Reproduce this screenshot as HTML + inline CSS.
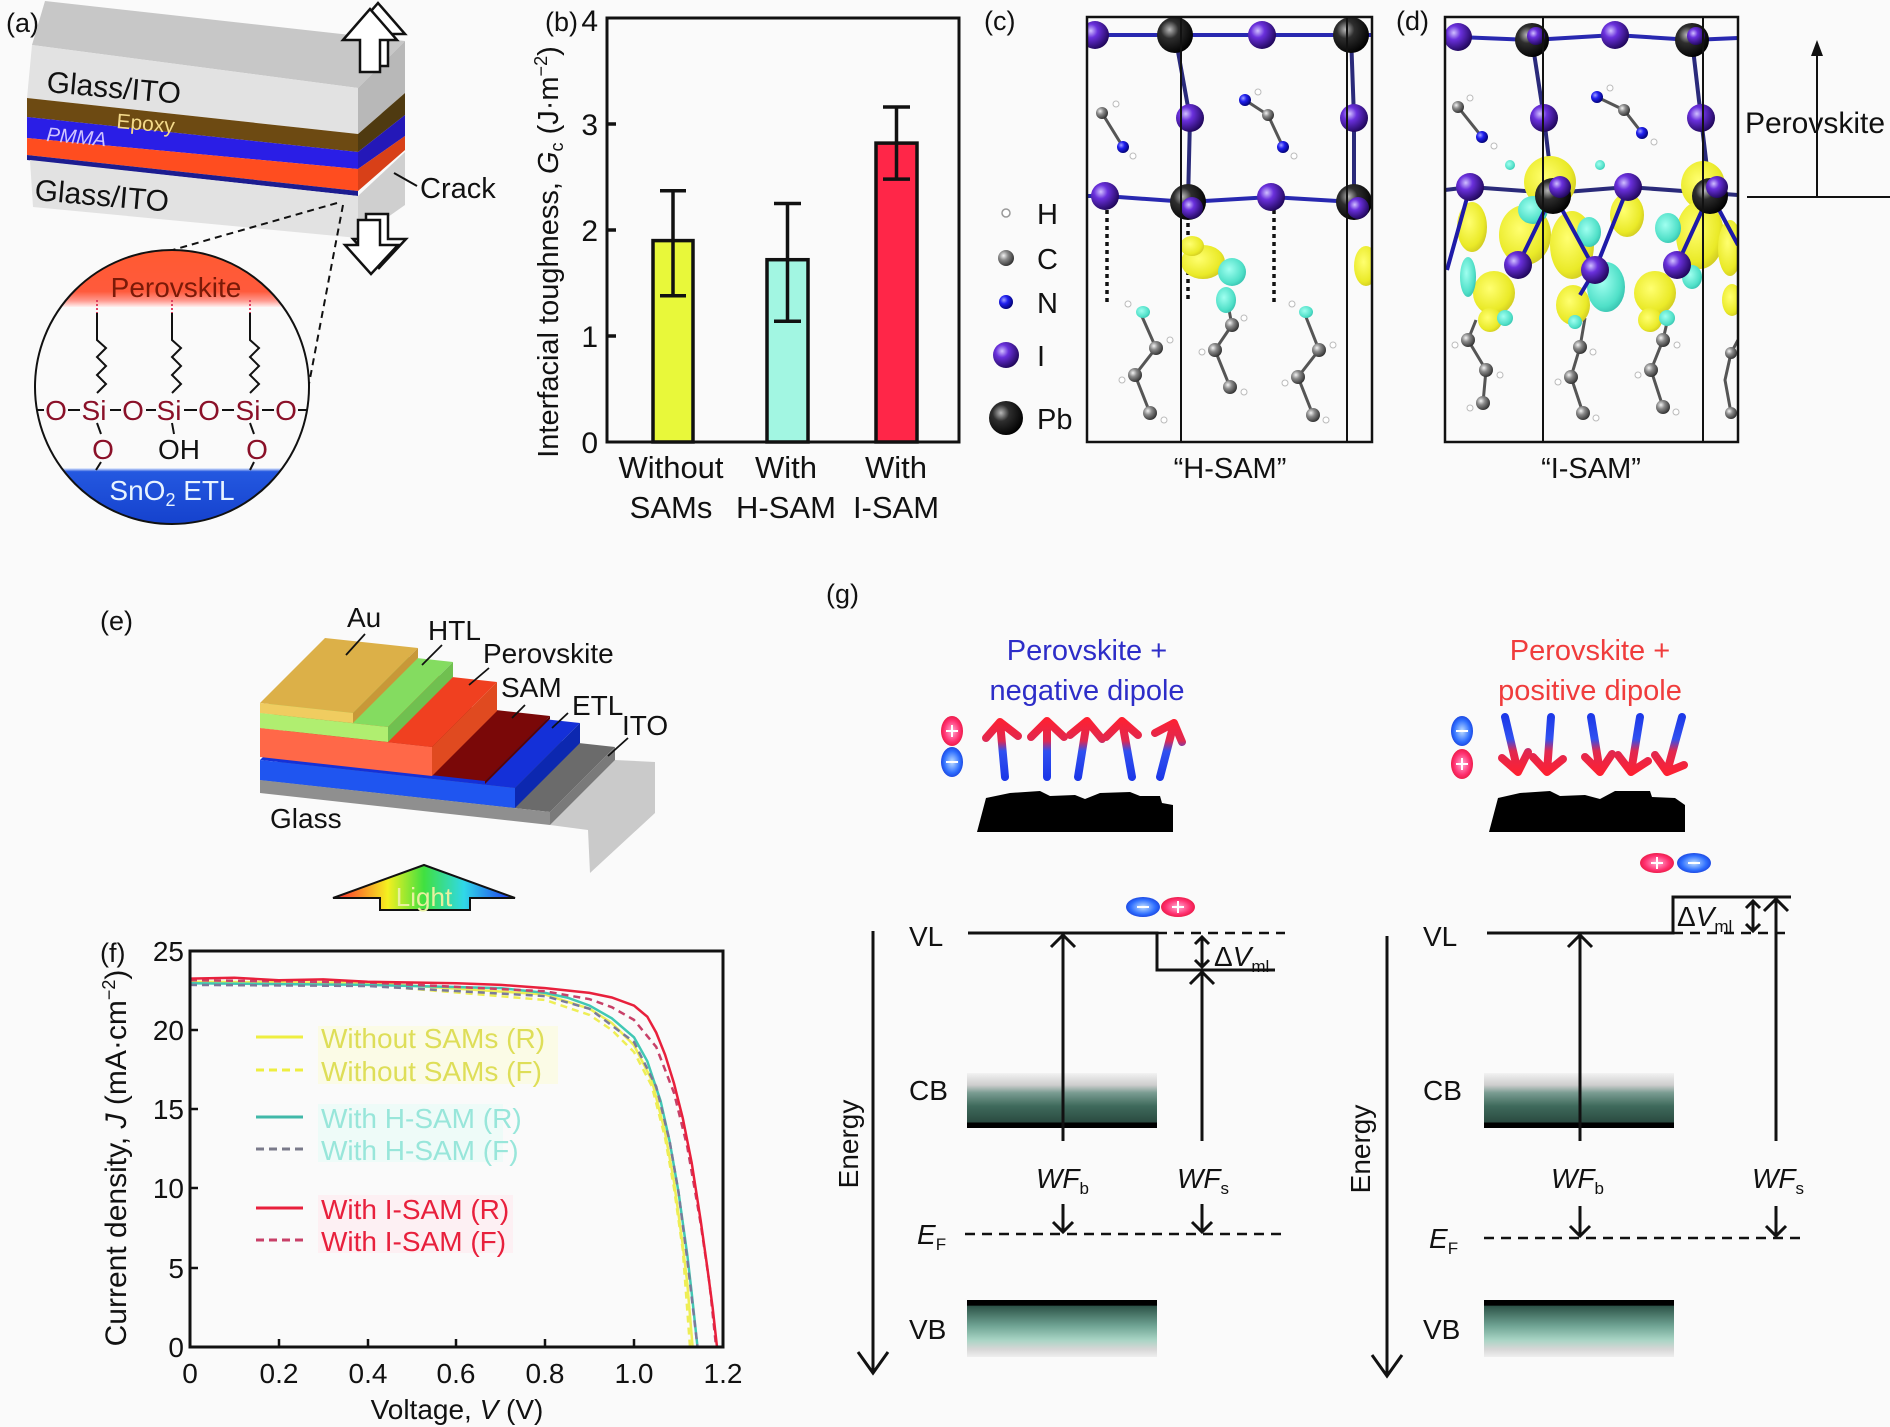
<!DOCTYPE html>
<html><head><meta charset="utf-8"><style>
html,body{margin:0;padding:0;background:#fafafa;}
svg{display:block;}
text{font-family:"Liberation Sans",sans-serif;fill:#111;}
</style></head><body>
<svg width="1890" height="1427" viewBox="0 0 1890 1427" xmlns="http://www.w3.org/2000/svg">
<defs>
<radialGradient id="gI" cx="0.35" cy="0.35" r="0.7"><stop offset="0" stop-color="#d0c0ff"/><stop offset="0.35" stop-color="#6a30dc"/><stop offset="1" stop-color="#1e0658"/></radialGradient>
<radialGradient id="gPb" cx="0.35" cy="0.35" r="0.7"><stop offset="0" stop-color="#b8b8b8"/><stop offset="0.35" stop-color="#2e2e2e"/><stop offset="1" stop-color="#000"/></radialGradient>
<radialGradient id="gC" cx="0.35" cy="0.35" r="0.7"><stop offset="0" stop-color="#f4f4f4"/><stop offset="0.4" stop-color="#8a8a8a"/><stop offset="1" stop-color="#2e2e2e"/></radialGradient>
<radialGradient id="gN" cx="0.35" cy="0.35" r="0.7"><stop offset="0" stop-color="#a0a0ff"/><stop offset="0.4" stop-color="#2020f0"/><stop offset="1" stop-color="#000070"/></radialGradient>
<radialGradient id="gY" cx="0.4" cy="0.4" r="0.7"><stop offset="0" stop-color="#ffff70"/><stop offset="0.7" stop-color="#eaea28"/><stop offset="1" stop-color="#c8c020"/></radialGradient>
<radialGradient id="gCy" cx="0.4" cy="0.4" r="0.7"><stop offset="0" stop-color="#a0fff0"/><stop offset="0.7" stop-color="#50e0c8"/><stop offset="1" stop-color="#30b8a8"/></radialGradient>
<linearGradient id="perovBand" x1="0" y1="0" x2="0" y2="1"><stop offset="0" stop-color="#ff5a30"/><stop offset="0.75" stop-color="#ff5a3c"/><stop offset="0.9" stop-color="#ff9a90"/><stop offset="1" stop-color="#fff0f0"/></linearGradient>
<linearGradient id="snBand" x1="0" y1="0" x2="0" y2="1"><stop offset="0" stop-color="#f4f8ff"/><stop offset="0.06" stop-color="#2458e0"/><stop offset="1" stop-color="#1440cc"/></linearGradient>
<linearGradient id="cbg" x1="0" y1="0" x2="0" y2="1"><stop offset="0" stop-color="#f2f2f2"/><stop offset="0.22" stop-color="#cdcdcd"/><stop offset="0.36" stop-color="#7a9c92"/><stop offset="0.6" stop-color="#3f6a5c"/><stop offset="0.9" stop-color="#2a4a40"/><stop offset="0.9" stop-color="#000"/><stop offset="1" stop-color="#000"/></linearGradient>
<linearGradient id="vbg" x1="0" y1="0" x2="0" y2="1"><stop offset="0" stop-color="#000"/><stop offset="0.09" stop-color="#000"/><stop offset="0.11" stop-color="#2e5449"/><stop offset="0.45" stop-color="#6fa393"/><stop offset="0.7" stop-color="#a8d4c4"/><stop offset="0.86" stop-color="#d6d6d6"/><stop offset="1" stop-color="#efefef"/></linearGradient>
<linearGradient id="arrUp" gradientUnits="userSpaceOnUse" x1="0" y1="778" x2="0" y2="718"><stop offset="0" stop-color="#1c38e8"/><stop offset="0.45" stop-color="#3050f0"/><stop offset="0.62" stop-color="#e02850"/><stop offset="1" stop-color="#ff2030"/></linearGradient>
<linearGradient id="arrDn" gradientUnits="userSpaceOnUse" x1="0" y1="715" x2="0" y2="775"><stop offset="0" stop-color="#1c38e8"/><stop offset="0.4" stop-color="#3050f0"/><stop offset="0.6" stop-color="#e02850"/><stop offset="1" stop-color="#ff2030"/></linearGradient>
<linearGradient id="light" x1="0" y1="0" x2="1" y2="0"><stop offset="0" stop-color="#ff2030"/><stop offset="0.3" stop-color="#f4f020"/><stop offset="0.5" stop-color="#40e040"/><stop offset="0.72" stop-color="#30d8e8"/><stop offset="1" stop-color="#2030f0"/></linearGradient>
<radialGradient id="dRed" cx="0.5" cy="0.5" r="0.6"><stop offset="0" stop-color="#ffb0d8"/><stop offset="0.6" stop-color="#ff3070"/><stop offset="1" stop-color="#e01030"/></radialGradient>
<radialGradient id="dBlue" cx="0.5" cy="0.5" r="0.6"><stop offset="0" stop-color="#c0e0ff"/><stop offset="0.6" stop-color="#3070ff"/><stop offset="1" stop-color="#1030d0"/></radialGradient>
<clipPath id="clipCirc"><circle cx="172" cy="387" r="137"/></clipPath>
<clipPath id="clipC"><rect x="1087" y="17" width="285" height="425"/></clipPath>
<clipPath id="clipD"><rect x="1445" y="17" width="293" height="425"/></clipPath>
</defs>
<rect width="1890" height="1427" fill="#fafafa"/>

<!-- ================= (a) ================= -->
<text x="6" y="32" font-size="27">(a)</text>
<polygon points="32,45 45,1 405,41 358,88" fill="#c7c7c7"/>
<polygon points="32,45 358,88 358,134 27,98" fill="#e2e2e2"/>
<polygon points="358,88 405,41 405,93 358,134" fill="#b8b8b8"/>
<polygon points="27,98 358,134 358,152 27,117" fill="#6d4a12"/>
<polygon points="358,134 405,93 405,115 358,152" fill="#4f3a10"/>
<polygon points="27,117 358,152 358,169 27,138" fill="#2a1ee6"/>
<polygon points="358,152 405,115 405,136 358,169" fill="#2418b8"/>
<polygon points="27,138 358,169 358,191 27,155" fill="#ff4d1f"/>
<polygon points="358,169 405,136 405,150 358,191" fill="#d84018"/>
<polygon points="27,155 358,191 358,196 27,160" fill="#1c1c90"/>
<polygon points="30,160 358,196 358,238 33,207" fill="#e2e2e2"/>
<polygon points="358,196 405,152 405,205 358,238" fill="#cfcfcf"/>
<text x="46" y="92" font-size="30" transform="rotate(5 46 92)">Glass/ITO</text>
<text x="34" y="200" font-size="30" transform="rotate(5 34 200)">Glass/ITO</text>
<text x="116" y="128" font-size="21" style="fill:#f3d98a" transform="rotate(5 116 128)">Epoxy</text>
<text x="46" y="141" font-size="20" font-style="italic" style="fill:#cfc4ff" transform="rotate(5 46 141)">PMMA</text>
<polygon points="351,34 378,3 405,34 388,34 388,66 368,66 368,34" fill="#fff" stroke="#111" stroke-width="2.5"/>
<polygon points="343,40 370,9 397,40 380,40 380,72 360,72 360,40" fill="#fff" stroke="#111" stroke-width="2.5"/>
<polygon points="366,214 388,214 388,239 406,239 379,268 353,239 366,239" fill="#fff" stroke="#111" stroke-width="2.5"/>
<polygon points="358,220 380,220 380,245 398,245 371,274 345,245 358,245" fill="#fff" stroke="#111" stroke-width="2.5"/>
<line x1="417" y1="186" x2="394" y2="173" stroke="#111" stroke-width="2"/>
<text x="420" y="198" font-size="29">Crack</text>
<line x1="337" y1="203" x2="148" y2="257" stroke="#111" stroke-width="2" stroke-dasharray="7 5"/>
<line x1="343" y1="205" x2="308" y2="389" stroke="#111" stroke-width="2" stroke-dasharray="7 5"/>
<circle cx="172" cy="387" r="137" fill="#fafafa"/>
<g clip-path="url(#clipCirc)">
<rect x="30" y="245" width="290" height="62" fill="url(#perovBand)"/>
<rect x="30" y="468" width="290" height="60" fill="url(#snBand)"/>
<g stroke="#111" stroke-width="2" fill="none">
<path d="M97,313 V340 L106,348 L97,357 L106,366 L97,375 L106,384 L97,393"/>
<path d="M172,313 V340 L181,348 L172,357 L181,366 L172,375 L181,384 L172,393"/>
<path d="M250,313 V340 L259,348 L250,357 L259,366 L250,375 L259,384 L250,393"/>
<path d="M30,410 H44 M68,410 H80 M110,410 H121 M146,410 H156 M184,410 H197 M222,410 H234 M262,410 H274 M298,410 H320"/>
<path d="M97,423 L101,434 M172,423 L174,434 M250,423 L254,434 M101,462 L96,470 M254,462 L250,470"/>
</g>
<g stroke="#e04060" stroke-width="2" stroke-dasharray="2 2"><path d="M97,300 V313 M172,300 V313 M250,300 V313"/></g>
<g font-size="28" text-anchor="middle">
<text x="56" y="420" style="fill:#8a1028">O</text><text x="94" y="420" style="fill:#8a1028">Si</text>
<text x="133" y="420" style="fill:#8a1028">O</text><text x="169" y="420" style="fill:#8a1028">Si</text>
<text x="209" y="420" style="fill:#8a1028">O</text><text x="248" y="420" style="fill:#8a1028">Si</text>
<text x="286" y="420" style="fill:#8a1028">O</text>
<text x="103" y="459" style="fill:#8a1028">O</text><text x="179" y="459">OH</text><text x="257" y="459" style="fill:#8a1028">O</text>
</g>
<text x="176" y="297" font-size="28" text-anchor="middle" style="fill:#7a1a08">Perovskite</text>
<text x="172" y="500" font-size="28" text-anchor="middle" style="fill:#e8f4ff">SnO<tspan font-size="18" dy="6">2</tspan><tspan dy="-6"> ETL</tspan></text>
</g>
<circle cx="172" cy="387" r="137" fill="none" stroke="#111" stroke-width="2"/>

<!-- ================= (b) ================= -->
<text x="545" y="31" font-size="27">(b)</text>
<rect x="653" y="240.6" width="40" height="201.4" fill="#e8f83a" stroke="#111" stroke-width="3.5"/>
<rect x="767" y="259.7" width="41" height="182.3" fill="#a2f6e2" stroke="#111" stroke-width="3.5"/>
<rect x="876" y="143.1" width="41" height="298.9" fill="#ff2648" stroke="#111" stroke-width="3.5"/>
<g stroke="#111" stroke-width="3.5">
<path d="M673,295.7 V190.8 M660,295.7 H686 M660,190.8 H686"/>
<path d="M787.5,321.2 V203.5 M774,321.2 H801 M774,203.5 H801"/>
<path d="M896.5,179.1 V107 M883,179.1 H910 M883,107 H910"/>
<path d="M607,336 H616 M607,230 H616 M607,124 H616"/>
</g>
<rect x="607" y="18" width="352" height="424" fill="none" stroke="#111" stroke-width="3"/>
<g font-size="30" text-anchor="end">
<text x="598" y="453">0</text><text x="598" y="347">1</text><text x="598" y="241">2</text><text x="598" y="135">3</text><text x="598" y="31">4</text>
</g>
<text transform="translate(558,252) rotate(-90)" text-anchor="middle" font-size="29">Interfacial toughness, <tspan font-style="italic">G</tspan><tspan font-size="18" dy="5">c</tspan><tspan dy="-5"> (J·m</tspan><tspan font-size="18" dy="-11">−2</tspan><tspan dy="11">)</tspan></text>
<g font-size="31" text-anchor="middle">
<text x="671" y="478">Without</text><text x="671" y="518">SAMs</text>
<text x="786" y="478">With</text><text x="786" y="518">H-SAM</text>
<text x="896" y="478">With</text><text x="896" y="518">I-SAM</text>
</g>

<!-- ================= (c) ================= -->
<text x="984" y="30" font-size="27">(c)</text>
<g clip-path="url(#clipC)">
<path d="M1087,35 L1372,35" stroke="#2828b0" stroke-width="4"/>
<path d="M1175,35 L1190,118 L1188,202 M1351,35 L1354,118 L1354,202" stroke="#2a2a7a" stroke-width="4" fill="none"/>
<path d="M1087,196 L1105,196 L1188,202 L1271,197 L1354,202 L1372,200" stroke="#2828b0" stroke-width="4" fill="none"/>
<g stroke="#555" stroke-width="3" fill="none">
<path d="M1102,113 L1123,147 M1245,100 L1268,115 L1283,147"/>
<path d="M1140,312 L1156,348 L1135,375 L1150,413 M1228,305 L1232,325 L1215,350 L1230,387 M1304,312 L1319,350 L1298,377 L1313,415"/>
</g>
<g stroke="#111" stroke-width="3.5" stroke-dasharray="4 4"><path d="M1107,210 V302 M1188,215 V302 M1274,210 V302"/></g>
<ellipse cx="1203" cy="262" rx="22" ry="17" fill="url(#gY)"/>
<ellipse cx="1192" cy="246" rx="12" ry="10" fill="url(#gY)"/>
<ellipse cx="1232" cy="272" rx="14" ry="14" fill="url(#gCy)"/>
<ellipse cx="1226" cy="300" rx="10" ry="13" fill="url(#gCy)"/>
<ellipse cx="1366" cy="266" rx="12" ry="20" fill="url(#gY)"/>
<ellipse cx="1143" cy="312" rx="7" ry="6" fill="url(#gCy)"/>
<ellipse cx="1306" cy="312" rx="7" ry="6" fill="url(#gCy)"/>
<g fill="url(#gC)">
<circle cx="1102" cy="113" r="6"/><circle cx="1268" cy="115" r="6"/>
<circle cx="1156" cy="348" r="7"/><circle cx="1135" cy="375" r="7"/><circle cx="1150" cy="413" r="7"/>
<circle cx="1232" cy="325" r="7"/><circle cx="1215" cy="350" r="7"/><circle cx="1230" cy="387" r="7"/>
<circle cx="1319" cy="350" r="7"/><circle cx="1298" cy="377" r="7"/><circle cx="1313" cy="415" r="7"/>
</g>
<g fill="url(#gN)"><circle cx="1123" cy="147" r="6"/><circle cx="1245" cy="100" r="6"/><circle cx="1283" cy="147" r="6"/></g>
<g fill="#fff" stroke="#bbb" stroke-width="1"><circle cx="1116" cy="104" r="3"/><circle cx="1133" cy="156" r="3"/><circle cx="1258" cy="92" r="3"/><circle cx="1294" cy="156" r="3"/><circle cx="1170" cy="340" r="3"/><circle cx="1122" cy="380" r="3"/><circle cx="1164" cy="420" r="3"/><circle cx="1244" cy="318" r="3"/><circle cx="1202" cy="352" r="3"/><circle cx="1244" cy="392" r="3"/><circle cx="1333" cy="345" r="3"/><circle cx="1285" cy="383" r="3"/><circle cx="1326" cy="420" r="3"/><circle cx="1128" cy="304" r="3"/><circle cx="1292" cy="304" r="3"/></g>
<g fill="url(#gI)">
<circle cx="1095" cy="35" r="14"/><circle cx="1262" cy="35" r="14"/>
<circle cx="1190" cy="118" r="14"/><circle cx="1354" cy="118" r="14"/>
<circle cx="1105" cy="196" r="14"/><circle cx="1271" cy="197" r="14"/>
</g>
<g fill="url(#gPb)">
<circle cx="1175" cy="35" r="18"/><circle cx="1351" cy="35" r="18"/>
<circle cx="1188" cy="202" r="18"/><circle cx="1354" cy="202" r="18"/>
</g>
<g fill="url(#gI)"><circle cx="1192" cy="208" r="11"/><circle cx="1358" cy="208" r="11"/></g>
</g>
<path d="M1181,17 V442 M1347,17 V442" stroke="#111" stroke-width="2"/>
<rect x="1087" y="17" width="285" height="425" fill="none" stroke="#111" stroke-width="2.5"/>
<circle cx="1006" cy="213" r="4" fill="#fff" stroke="#999" stroke-width="1.5"/>
<circle cx="1006" cy="258" r="8" fill="url(#gC)"/>
<circle cx="1006" cy="302" r="7" fill="url(#gN)"/>
<circle cx="1006" cy="355" r="13" fill="url(#gI)"/>
<circle cx="1006" cy="418" r="17" fill="url(#gPb)"/>
<g font-size="29"><text x="1037" y="224">H</text><text x="1037" y="269">C</text><text x="1037" y="313">N</text><text x="1037" y="366">I</text><text x="1037" y="429">Pb</text></g>
<text x="1230" y="478" font-size="29" text-anchor="middle">“H-SAM”</text>

<!-- ================= (d) ================= -->
<text x="1396" y="30" font-size="27">(d)</text>
<g clip-path="url(#clipD)">
<path d="M1445,37 L1458,37 L1532,40 L1615,35 L1692,40 L1738,38" stroke="#2828b0" stroke-width="4" fill="none"/>
<path d="M1532,40 L1544,118 L1553,193 M1692,40 L1701,118 L1710,193" stroke="#2a2a7a" stroke-width="4" fill="none"/>
<path d="M1445,190 L1470,187 L1553,193 L1628,187 L1710,193 L1738,195" stroke="#2a2a7a" stroke-width="4" fill="none"/>
<g stroke="#555" stroke-width="3" fill="none">
<path d="M1458,107 L1482,137 M1597,97 L1624,110 L1642,133"/>
<path d="M1476,320 L1468,340 L1486,370 L1483,403 M1585,318 L1580,347 L1571,377 L1583,413 M1668,318 L1663,340 L1651,370 L1663,407 M1738,340 L1731,353 L1725,380 L1731,413"/>
</g>
<g fill="url(#gY)">
<ellipse cx="1550" cy="182" rx="26" ry="26"/><ellipse cx="1472" cy="227" rx="15" ry="25"/>
<ellipse cx="1525" cy="235" rx="26" ry="30"/><ellipse cx="1572" cy="245" rx="22" ry="34"/>
<ellipse cx="1627" cy="215" rx="17" ry="22"/><ellipse cx="1703" cy="185" rx="22" ry="24"/>
<ellipse cx="1700" cy="235" rx="24" ry="34"/><ellipse cx="1730" cy="248" rx="12" ry="28"/>
<ellipse cx="1494" cy="293" rx="21" ry="22"/><ellipse cx="1573" cy="305" rx="17" ry="20"/>
<ellipse cx="1655" cy="293" rx="21" ry="22"/><ellipse cx="1732" cy="300" rx="10" ry="16"/>
<ellipse cx="1490" cy="320" rx="12" ry="12"/><ellipse cx="1650" cy="320" rx="12" ry="12"/>
</g>
<g fill="url(#gCy)">
<ellipse cx="1606" cy="287" rx="19" ry="25"/><ellipse cx="1468" cy="277" rx="8" ry="20"/>
<ellipse cx="1533" cy="210" rx="15" ry="14"/><ellipse cx="1589" cy="232" rx="12" ry="15"/>
<ellipse cx="1668" cy="228" rx="13" ry="15"/><ellipse cx="1692" cy="277" rx="10" ry="12"/>
<ellipse cx="1505" cy="318" rx="8" ry="8"/><ellipse cx="1667" cy="318" rx="8" ry="8"/>
<ellipse cx="1575" cy="322" rx="7" ry="7"/><ellipse cx="1510" cy="165" rx="5" ry="5"/><ellipse cx="1600" cy="165" rx="5" ry="5"/>
</g>
<path d="M1553,193 L1518,265 M1553,193 L1595,270 M1628,187 L1595,270 L1580,295 M1710,193 L1677,265 M1710,193 L1738,245 M1470,187 L1447,270" stroke="#1e1aa8" stroke-width="4" fill="none"/>
<g fill="url(#gC)">
<circle cx="1458" cy="107" r="6"/><circle cx="1624" cy="110" r="6"/>
<circle cx="1468" cy="340" r="7"/><circle cx="1486" cy="370" r="7"/><circle cx="1483" cy="403" r="7"/>
<circle cx="1580" cy="347" r="7"/><circle cx="1571" cy="377" r="7"/><circle cx="1583" cy="413" r="7"/>
<circle cx="1663" cy="340" r="7"/><circle cx="1651" cy="370" r="7"/><circle cx="1663" cy="407" r="7"/>
<circle cx="1731" cy="353" r="6"/><circle cx="1731" cy="413" r="6"/>
</g>
<g fill="url(#gN)"><circle cx="1482" cy="137" r="6"/><circle cx="1597" cy="97" r="6"/><circle cx="1642" cy="133" r="6"/></g>
<g fill="#fff" stroke="#bbb" stroke-width="1"><circle cx="1470" cy="98" r="3"/><circle cx="1494" cy="146" r="3"/><circle cx="1610" cy="88" r="3"/><circle cx="1654" cy="142" r="3"/><circle cx="1455" cy="345" r="3"/><circle cx="1500" cy="375" r="3"/><circle cx="1470" cy="408" r="3"/><circle cx="1593" cy="352" r="3"/><circle cx="1558" cy="382" r="3"/><circle cx="1596" cy="418" r="3"/><circle cx="1677" cy="345" r="3"/><circle cx="1638" cy="375" r="3"/><circle cx="1676" cy="412" r="3"/></g>
<g fill="url(#gPb)">
<circle cx="1532" cy="40" r="17"/><circle cx="1692" cy="40" r="17"/>
<circle cx="1553" cy="196" r="18"/><circle cx="1710" cy="196" r="18"/>
</g>
<g fill="url(#gI)">
<circle cx="1458" cy="37" r="14"/><circle cx="1615" cy="35" r="14"/>
<circle cx="1536" cy="36" r="9"/><circle cx="1696" cy="36" r="9"/>
<circle cx="1544" cy="118" r="14"/><circle cx="1701" cy="118" r="14"/>
<circle cx="1470" cy="187" r="14"/><circle cx="1628" cy="187" r="14"/>
<circle cx="1560" cy="187" r="11"/><circle cx="1717" cy="187" r="11"/>
<circle cx="1518" cy="265" r="14"/><circle cx="1595" cy="270" r="14"/><circle cx="1677" cy="265" r="14"/>
</g>
</g>
<path d="M1543,17 V442 M1703,17 V442" stroke="#111" stroke-width="2"/>
<rect x="1445" y="17" width="293" height="425" fill="none" stroke="#111" stroke-width="2.5"/>
<text x="1591" y="478" font-size="29" text-anchor="middle">“I-SAM”</text>
<line x1="1817" y1="197" x2="1817" y2="50" stroke="#111" stroke-width="2"/>
<polygon points="1817,40 1811,56 1823,56" fill="#111"/>
<line x1="1747" y1="197" x2="1890" y2="197" stroke="#111" stroke-width="2"/>
<text x="1745" y="133" font-size="30">Perovskite</text>

<!-- ================= (e) ================= -->
<text x="100" y="630" font-size="27">(e)</text>
<polygon points="550,825 615,760 655,762 655,813 590,873 588,830" fill="#cacaca"/>
<polygon points="260,780 550,812 615,747 325,715" fill="#6b6b6b"/>
<polygon points="260,780 550,812 550,825 260,793" fill="#8f8f8f"/>
<polygon points="550,812 615,747 615,760 550,825" fill="#7a7a7a"/>
<polygon points="260,760 515,788 580,723 325,695" fill="#1430d8"/>
<polygon points="260,760 515,788 515,808 260,780" fill="#1f55f0"/>
<polygon points="515,788 580,723 580,743 515,808" fill="#0c28b0"/>
<polygon points="260,756 485,781 550,716 325,691" fill="#7a0808"/>
<polygon points="485,781 550,716 550,719 485,784" fill="#5a0404"/>
<polygon points="260,728 432,747 497,682 325,663" fill="#f04020"/>
<polygon points="260,728 432,747 432,776 260,757" fill="#ff6848"/>
<polygon points="432,747 497,682 497,711 432,776" fill="#e04a20"/>
<polygon points="260,713 388,727 453,662 325,648" fill="#84dc60"/>
<polygon points="260,713 388,727 388,742 260,728" fill="#b0ee70"/>
<polygon points="388,727 453,662 453,677 388,742" fill="#70c050"/>
<polygon points="260,703 353,713 418,648 325,638" fill="#dcb048"/>
<polygon points="260,703 353,713 353,723 260,713" fill="#f0cc60"/>
<polygon points="353,713 418,648 418,658 353,723" fill="#c89838"/>
<g stroke="#111" stroke-width="1.8">
<line x1="365" y1="634" x2="346" y2="655"/>
<line x1="442" y1="645" x2="422" y2="665"/>
<line x1="489" y1="668" x2="469" y2="685"/>
<line x1="525" y1="705" x2="512" y2="718"/>
<line x1="568" y1="713" x2="552" y2="728"/>
<line x1="628" y1="738" x2="608" y2="756"/>
</g>
<g font-size="28">
<text x="347" y="627">Au</text><text x="428" y="640">HTL</text><text x="483" y="663">Perovskite</text>
<text x="501" y="697">SAM</text><text x="572" y="715">ETL</text><text x="622" y="735">ITO</text>
<text x="270" y="828">Glass</text>
</g>
<polygon points="333,898 424,865 515,898 470,898 470,910 380,910 380,898" fill="url(#light)" stroke="#111" stroke-width="2"/>
<text x="424" y="906" font-size="26" text-anchor="middle" style="fill:#e8f0a0">Light</text>

<!-- ================= (f) ================= -->
<text x="100" y="962" font-size="27">(f)</text>
<g fill="none" stroke-width="2.5">
<polyline stroke="#eeee55" points="190,981.8 367.6,982.8 545.2,994.5 589.6,1008.8 611.8,1023 634,1045.3 651.8,1080.2 665.1,1132.6 674,1181.8 682.8,1245.4 687.3,1283.5 692.6,1347"/>
<polyline stroke="#eeee55" stroke-dasharray="7 5" points="190,983.3 367.6,985 545.2,1000 589.6,1015 611.8,1030 634,1052 651.8,1086 665.1,1138 674,1188 682.8,1250 690,1347"/>
<polyline stroke="#40c8b4" points="190,983.3 367.6,984.9 500.8,988.1 545.2,992.9 567.4,997.6 589.6,1005.6 611.8,1018.3 634,1037.3 647.3,1061.2 660.6,1100.9 669.5,1140.6 678.4,1191.4 687.3,1254.9 691.7,1293 697.5,1347"/>
<polyline stroke="#7a7a9a" stroke-dasharray="7 5" points="190,984.9 367.6,986 545.2,996.1 589.6,1008.8 634,1042.1 656.2,1086.6 669.5,1140.6 678.4,1191.4 687.3,1259.7 697.5,1347"/>
<polyline stroke="#c84068" stroke-dasharray="7 5" points="190,980.2 367.6,982.5 545.2,991.3 589.6,999.2 611.8,1007.2 634,1019.9 656.2,1046.9 674,1092.9 687.3,1146.9 700.6,1223.1 709.5,1283.5 716.1,1347"/>
<polyline stroke="#e8203c" points="190,978.6 234.4,977.8 278.8,980.2 323.2,979.4 367.6,981.8 412,982.5 456.4,983.3 500.8,984.9 545.2,988.1 589.6,992.9 611.8,997.5 634,1005.6 647.3,1016.7 656.2,1032.6 665.1,1054.8 674,1083.4 682.8,1118.3 691.7,1162.8 700.6,1220 707.3,1267.6 712.6,1307.3 717,1347"/>
</g>
<rect x="190" y="951" width="533" height="396" fill="none" stroke="#111" stroke-width="3"/>
<g stroke="#111" stroke-width="2.5">
<path d="M279,1347 V1339 M368,1347 V1339 M456,1347 V1339 M545,1347 V1339 M634,1347 V1339"/>
<path d="M190,1268 H198 M190,1188 H198 M190,1109 H198 M190,1030 H198"/>
</g>
<g font-size="28" text-anchor="end">
<text x="184" y="1357">0</text><text x="184" y="1278">5</text><text x="184" y="1198">10</text><text x="184" y="1119">15</text><text x="184" y="1040">20</text><text x="184" y="961">25</text>
</g>
<g font-size="28" text-anchor="middle">
<text x="190" y="1383">0</text><text x="279" y="1383">0.2</text><text x="368" y="1383">0.4</text><text x="456" y="1383">0.6</text><text x="545" y="1383">0.8</text><text x="634" y="1383">1.0</text><text x="723" y="1383">1.2</text>
</g>
<text x="457" y="1419" font-size="28" text-anchor="middle">Voltage, <tspan font-style="italic">V</tspan> (V)</text>
<text transform="translate(126,1158) rotate(-90)" font-size="30" text-anchor="middle">Current density, <tspan font-style="italic">J</tspan> (mA·cm<tspan font-size="18" dy="-11">−2</tspan><tspan dy="11">)</tspan></text>
<rect x="318" y="1026" width="240" height="58" fill="#fbfbe6"/>
<rect x="318" y="1104" width="185" height="58" fill="#eefbf8"/>
<rect x="318" y="1195" width="195" height="58" fill="#fdf0f3"/>
<g stroke-width="3">
<line x1="256" y1="1037" x2="303" y2="1037" stroke="#eeee40"/>
<line x1="256" y1="1070" x2="303" y2="1070" stroke="#eeee40" stroke-dasharray="8 5"/>
<line x1="256" y1="1117" x2="303" y2="1117" stroke="#40b8a8"/>
<line x1="256" y1="1149" x2="303" y2="1149" stroke="#7a7a8a" stroke-dasharray="8 5"/>
<line x1="256" y1="1208" x2="303" y2="1208" stroke="#e8203c"/>
<line x1="256" y1="1240" x2="303" y2="1240" stroke="#c84068" stroke-dasharray="8 5"/>
</g>
<g font-size="28">
<text x="321" y="1048" style="fill:#dede58">Without SAMs (R)</text>
<text x="321" y="1081" style="fill:#dede58">Without SAMs (F)</text>
<text x="321" y="1128" style="fill:#98e6da">With H-SAM (R)</text>
<text x="321" y="1160" style="fill:#98e6da">With H-SAM (F)</text>
<text x="321" y="1219" style="fill:#e8203c">With I-SAM (R)</text>
<text x="321" y="1251" style="fill:#e8203c">With I-SAM (F)</text>
</g>

<!-- ================= (g) ================= -->
<text x="826" y="603" font-size="27">(g)</text>
<text x="1087" y="660" font-size="29" text-anchor="middle" style="fill:#2d2dc8">Perovskite +</text>
<text x="1087" y="700" font-size="29" text-anchor="middle" style="fill:#2d2dc8">negative dipole</text>
<ellipse cx="952" cy="731" rx="11" ry="15" fill="url(#dRed)"/>
<ellipse cx="952" cy="762" rx="11" ry="15" fill="url(#dBlue)"/>
<path d="M946,731 H958 M952,725 V737 M946,762 H958" stroke="#fff" stroke-width="2"/>
<g stroke="url(#arrUp)" stroke-width="8" fill="none" stroke-linecap="round" stroke-linejoin="round">
<path d="M1005,777 L1000,722 M986,738 L1000,722 L1018,736"/>
<path d="M1047,777 L1047,721 M1031,737 L1047,721 L1064,737"/>
<path d="M1078,777 L1087,721 M1070,735 L1087,721 L1102,739"/>
<path d="M1132,777 L1122,721 M1106,737 L1122,721 L1138,735"/>
<path d="M1160,777 L1174,723 M1155,733 L1174,723 L1182,742"/>
</g>
<polygon points="977,832 986,798 1010,793 1040,791 1050,796 1075,795 1085,799 1100,793 1130,792 1140,796 1160,796 1162,803 1173,805 1173,832" fill="#000"/>
<ellipse cx="1143" cy="907" rx="17" ry="10" fill="url(#dBlue)"/>
<ellipse cx="1178" cy="907" rx="17" ry="10" fill="url(#dRed)"/>
<path d="M1137,907 H1149 M1172,907 H1184 M1178,901 V913" stroke="#fff" stroke-width="2"/>
<g stroke="#111" stroke-width="3" fill="none">
<path d="M873,931 V1373 M858,1352 L873,1373 L888,1352"/>
<path d="M968,933 H1157 V970 H1275"/>
<path d="M1063,935 V1141 M1051,947 L1063,935 L1075,947"/>
<path d="M1202,972 V1141 M1190,984 L1202,972 L1214,984"/>
<path d="M1202,937 V967 M1195,944 L1202,937 L1209,944 M1195,960 L1202,967 L1209,960"/>
<path d="M1063,1204 V1232 M1053,1222 L1063,1232 L1073,1222"/>
<path d="M1202,1204 V1232 M1192,1222 L1202,1232 L1212,1222"/>
</g>
<g stroke="#111" stroke-width="2.5" stroke-dasharray="10 7">
<path d="M1157,933 H1285"/><path d="M965,1234 H1285"/>
</g>
<rect x="967" y="1073" width="190" height="55" fill="url(#cbg)"/>
<rect x="967" y="1300" width="190" height="57" fill="url(#vbg)"/>
<line x1="1063" y1="1073" x2="1063" y2="1141" stroke="#111" stroke-width="3"/>
<text transform="translate(858,1144) rotate(-90)" font-size="28" text-anchor="middle">Energy</text>
<g font-size="28">
<text x="909" y="946">VL</text><text x="909" y="1100">CB</text><text x="909" y="1339">VB</text>
<text x="917" y="1244" font-style="italic">E<tspan font-size="17" dy="6" font-style="normal">F</tspan></text>
<text x="1036" y="1188" font-style="italic">WF<tspan font-size="17" dy="6" font-style="normal">b</tspan></text>
<text x="1177" y="1188" font-style="italic">WF<tspan font-size="17" dy="6" font-style="normal">s</tspan></text>
<text x="1214" y="966">Δ<tspan font-style="italic">V</tspan><tspan font-size="17" dy="6">ml</tspan></text>
</g>
<text x="1590" y="660" font-size="29" text-anchor="middle" style="fill:#f03c3c">Perovskite +</text>
<text x="1590" y="700" font-size="29" text-anchor="middle" style="fill:#f03c3c">positive dipole</text>
<ellipse cx="1462" cy="731" rx="11" ry="15" fill="url(#dBlue)"/>
<ellipse cx="1462" cy="764" rx="11" ry="15" fill="url(#dRed)"/>
<path d="M1456,731 H1468 M1456,764 H1468 M1462,758 V770" stroke="#fff" stroke-width="2"/>
<g stroke="url(#arrDn)" stroke-width="8" fill="none" stroke-linecap="round" stroke-linejoin="round">
<path d="M1505,717 L1518,772 M1502,758 L1518,772 L1528,752"/>
<path d="M1551,717 L1547,772 M1533,757 L1547,772 L1563,759"/>
<path d="M1591,717 L1600,772 M1585,757 L1600,772 L1612,754"/>
<path d="M1640,717 L1631,772 M1618,755 L1631,772 L1648,761"/>
<path d="M1682,717 L1667,772 M1655,755 L1667,772 L1684,765"/>
</g>
<polygon points="1489,832 1498,798 1520,793 1550,791 1560,796 1585,795 1600,799 1615,791 1650,791 1652,797 1675,798 1685,805 1685,832" fill="#000"/>
<ellipse cx="1657" cy="863" rx="17" ry="10" fill="url(#dRed)"/>
<ellipse cx="1694" cy="863" rx="17" ry="10" fill="url(#dBlue)"/>
<path d="M1651,863 H1663 M1657,857 V869 M1688,863 H1700" stroke="#fff" stroke-width="2"/>
<g stroke="#111" stroke-width="3" fill="none">
<path d="M1387,936 V1376 M1372,1355 L1387,1376 L1402,1355"/>
<path d="M1487,933 H1673 V897 H1791"/>
<path d="M1580,935 V1141 M1568,947 L1580,935 L1592,947"/>
<path d="M1776,899 V1141 M1764,911 L1776,899 L1788,911"/>
<path d="M1753,901 V931 M1746,908 L1753,901 L1760,908 M1746,924 L1753,931 L1760,924"/>
<path d="M1580,1206 V1236 M1570,1226 L1580,1236 L1590,1226"/>
<path d="M1776,1206 V1236 M1766,1226 L1776,1236 L1786,1226"/>
</g>
<g stroke="#111" stroke-width="2.5" stroke-dasharray="10 7">
<path d="M1673,933 H1791"/><path d="M1484,1238 H1803"/>
</g>
<rect x="1484" y="1073" width="190" height="55" fill="url(#cbg)"/>
<rect x="1484" y="1300" width="190" height="57" fill="url(#vbg)"/>
<line x1="1580" y1="1073" x2="1580" y2="1141" stroke="#111" stroke-width="3"/>
<text transform="translate(1370,1149) rotate(-90)" font-size="28" text-anchor="middle">Energy</text>
<g font-size="28">
<text x="1423" y="946">VL</text><text x="1423" y="1100">CB</text><text x="1423" y="1339">VB</text>
<text x="1429" y="1248" font-style="italic">E<tspan font-size="17" dy="6" font-style="normal">F</tspan></text>
<text x="1551" y="1188" font-style="italic">WF<tspan font-size="17" dy="6" font-style="normal">b</tspan></text>
<text x="1752" y="1188" font-style="italic">WF<tspan font-size="17" dy="6" font-style="normal">s</tspan></text>
<text x="1677" y="926">Δ<tspan font-style="italic">V</tspan><tspan font-size="17" dy="6">ml</tspan></text>
</g>
</svg>
</body></html>
